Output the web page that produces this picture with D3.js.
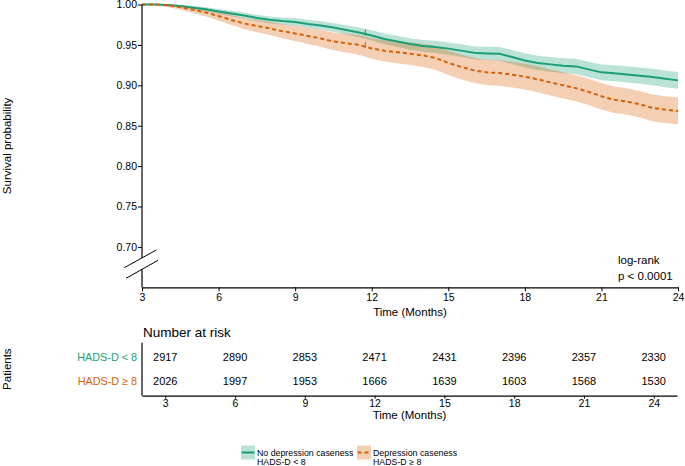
<!DOCTYPE html>
<html>
<head>
<meta charset="utf-8">
<script src="https://cdn.jsdelivr.net/npm/d3@7"></script>
<style>
  body { margin: 0; background: #fff; }
  svg { font-family: "Liberation Sans", Arial, Helvetica, sans-serif; }
</style>
</head>
<body>
<svg id="chart" width="685" height="466"></svg>
<script>
// time grid (months) for the survival curves
const months = [3, 3.5, 4, 4.5, 5, 5.5, 6, 6.5, 7, 7.5, 8, 8.5, 9, 9.5, 10, 10.5, 11, 11.5, 12,
  12.5, 13, 13.5, 14, 14.5, 15, 15.5, 16, 16.5, 17, 17.5, 18, 18.5, 19, 19.5, 20, 20.5, 21,
  21.5, 22, 22.5, 23, 23.5, 24];

// No depression caseness (HADS-D < 8)
const survNoDep = [1.000, 1.000, 0.9994, 0.998, 0.996, 0.994, 0.9914, 0.9889, 0.9864, 0.9833, 0.981,
  0.9795, 0.9784, 0.976, 0.974, 0.9716, 0.9685, 0.9654, 0.9617, 0.9574, 0.9543, 0.9512, 0.9487,
  0.9475, 0.9454, 0.9429, 0.9403, 0.9395, 0.9389, 0.9351, 0.9308, 0.9277, 0.9259, 0.9243, 0.9234,
  0.9197, 0.916, 0.9148, 0.9135, 0.9119, 0.9104, 0.908, 0.9061];
const lowNoDep = [1.000, 0.9995, 0.9984, 0.9965, 0.994, 0.9915, 0.9884, 0.9856, 0.9828, 0.9794, 0.9768,
  0.975, 0.9736, 0.971, 0.9688, 0.9662, 0.9628, 0.9594, 0.9554, 0.9508, 0.9474, 0.9441, 0.9414,
  0.94, 0.9377, 0.935, 0.9322, 0.9312, 0.9304, 0.9264, 0.9219, 0.9187, 0.9168, 0.915, 0.914,
  0.9101, 0.9063, 0.9049, 0.9035, 0.9018, 0.9002, 0.8976, 0.8956];
const highNoDep = [1.000, 1.000, 1.000, 0.9995, 0.998, 0.9965, 0.9944, 0.9922, 0.99, 0.9872, 0.9852,
  0.984, 0.9832, 0.981, 0.9792, 0.977, 0.9742, 0.9714, 0.968, 0.964, 0.9612, 0.9583, 0.956,
  0.955, 0.9531, 0.9508, 0.9484, 0.9478, 0.9474, 0.9438, 0.9397, 0.9367, 0.935, 0.9336, 0.9328,
  0.9293, 0.9257, 0.9247, 0.9235, 0.922, 0.9206, 0.9184, 0.9166];

// Depression caseness (HADS-D >= 8)
const survDep = [1.000, 1.000, 0.999, 0.9965, 0.9935, 0.9901, 0.9858, 0.9809, 0.9765, 0.9734, 0.9704,
  0.9669, 0.9642, 0.9611, 0.958, 0.9543, 0.9521, 0.95, 0.9456, 0.9428, 0.941, 0.9391, 0.937,
  0.9339, 0.9277, 0.9228, 0.9185, 0.916, 0.9151, 0.9132, 0.9107, 0.9074, 0.9036, 0.9, 0.8965,
  0.8919, 0.8864, 0.882, 0.8798, 0.8765, 0.8721, 0.8699, 0.8682];
const lowDep = [1.000, 0.999, 0.997, 0.9935, 0.9895, 0.9853, 0.9803, 0.9747, 0.9696, 0.9658, 0.9622,
  0.9581, 0.9548, 0.9512, 0.9476, 0.9433, 0.9405, 0.9379, 0.9329, 0.9296, 0.9273, 0.925, 0.9225,
  0.9191, 0.9127, 0.9075, 0.903, 0.9003, 0.8993, 0.8973, 0.8947, 0.8913, 0.8875, 0.8838, 0.8803,
  0.8756, 0.8701, 0.8656, 0.8634, 0.86, 0.8556, 0.8533, 0.8516];
const highDep = [1.000, 1.000, 1.000, 0.9995, 0.9975, 0.9949, 0.9913, 0.9871, 0.9834, 0.981, 0.9786,
  0.9757, 0.9736, 0.971, 0.9684, 0.9653, 0.9637, 0.9621, 0.9583, 0.956, 0.9547, 0.9532, 0.9515,
  0.9487, 0.9427, 0.9381, 0.934, 0.9317, 0.9309, 0.9291, 0.9267, 0.9235, 0.9197, 0.9162, 0.9127,
  0.9082, 0.9027, 0.8984, 0.8962, 0.893, 0.8886, 0.8865, 0.8848];

const censorTimes = [11.75];

const xTicks = [3, 6, 9, 12, 15, 18, 21, 24];
const yTicks = [0.70, 0.75, 0.80, 0.85, 0.90, 0.95, 1.00];

const riskGroups = ['HADS-D < 8', 'HADS-D \u2265 8'];
const riskNoDep = [2917, 2890, 2853, 2471, 2431, 2396, 2357, 2330];
const riskDep = [2026, 1997, 1953, 1666, 1639, 1603, 1568, 1530];

const green = '#1b9e77';
const orange = '#d95f02';

const svg = d3.select('#chart');

// ---------- survival plot ----------
const plot = { left: 142, right: 678, top: 4.5, bottom: 287.3 };

const x = d3.scaleLinear().domain([3, 24]).range([plot.left, plot.right]);
const y = d3.scaleLinear().domain([0.65, 1]).range([plot.bottom, plot.top]);

const series = [
  { name: 'nodep', surv: survNoDep, low: lowNoDep, high: highNoDep, color: green, dash: null },
  { name: 'dep', surv: survDep, low: lowDep, high: highDep, color: orange, dash: '4,3' },
];

const area = d3.area()
  .x((d) => x(d.t))
  .y0((d) => y(d.low))
  .y1((d) => y(d.high));

const line = d3.line()
  .x((d) => x(d.t))
  .y((d) => y(d.s));

series.forEach((s) => {
  s.rows = months.map((t, i) => ({ t, s: s.surv[i], low: s.low[i], high: s.high[i] }));
});

svg.append('g').attr('class', 'ribbons')
  .selectAll('path')
  .data(series)
  .join('path')
  .attr('d', (d) => area(d.rows))
  .attr('fill', (d) => d.color)
  .attr('fill-opacity', 0.3);

svg.append('g').attr('class', 'curves')
  .selectAll('path')
  .data(series)
  .join('path')
  .attr('d', (d) => line(d.rows))
  .attr('fill', 'none')
  .attr('stroke', (d) => d.color)
  .attr('stroke-width', 2)
  .attr('stroke-dasharray', (d) => d.dash);

// censor marks
function survAt(s, t) {
  const i = d3.bisectRight(months, t) - 1;
  return s.surv[Math.max(0, i)];
}
series.forEach((s) => {
  svg.append('g')
    .selectAll('line')
    .data(censorTimes)
    .join('line')
    .attr('x1', (t) => x(t)).attr('x2', (t) => x(t))
    .attr('y1', (t) => y(survAt(s, t)) - 3)
    .attr('y2', (t) => y(survAt(s, t)) + 3)
    .attr('stroke', s.color)
    .attr('stroke-width', 1);
});

// axes
const xAxis = svg.append('g')
  .attr('transform', `translate(0, ${plot.bottom})`)
  .call(d3.axisBottom(x).tickValues(xTicks).tickSize(4).tickSizeOuter(0).tickPadding(2));

const yAxis = svg.append('g')
  .attr('transform', `translate(${plot.left}, 0)`)
  .call(d3.axisLeft(y).tickValues(yTicks).tickFormat(d3.format('.2f')).tickSize(4).tickPadding(1));
yAxis.select('.domain').remove();

[xAxis, yAxis].forEach((g) => {
  g.selectAll('text').attr('font-size', '10.5px').attr('fill', '#000').attr('font-family', null);
  g.selectAll('line, path').attr('stroke', '#000');
});
xAxis.select('.domain').attr('stroke-width', 1.2);

// y axis line with a break
const breakTop = 258, breakBottom = 269;
svg.append('line')
  .attr('x1', plot.left).attr('x2', plot.left)
  .attr('y1', plot.top).attr('y2', breakTop)
  .attr('stroke', '#000').attr('stroke-width', 1.2);
svg.append('line')
  .attr('x1', plot.left).attr('x2', plot.left)
  .attr('y1', breakBottom).attr('y2', plot.bottom)
  .attr('stroke', '#000').attr('stroke-width', 1.2);
[[124.3, 267.7, 156.3, 250], [126, 278.3, 158, 260.3]].forEach(([x1, y1, x2, y2]) => {
  svg.append('line')
    .attr('x1', x1).attr('y1', y1).attr('x2', x2).attr('y2', y2)
    .attr('stroke', '#000').attr('stroke-width', 1);
});

svg.append('text')
  .attr('x', (plot.left + plot.right) / 2)
  .attr('y', 316)
  .attr('text-anchor', 'middle')
  .attr('font-size', '11.5px')
  .text('Time (Months)');

svg.append('text')
  .attr('transform', `translate(10.5, ${(plot.top + plot.bottom) / 2}) rotate(-90)`)
  .attr('text-anchor', 'middle')
  .attr('font-size', '11.5px')
  .text('Survival probability');

svg.append('text')
  .attr('x', 618).attr('y', 263.5)
  .attr('font-size', '11.5px')
  .text('log-rank');
svg.append('text')
  .attr('x', 618).attr('y', 279.5)
  .attr('font-size', '11.5px')
  .text('p < 0.0001');

// ---------- number at risk table ----------
const table = { left: 142, right: 677, top: 342.7, bottom: 395.7 };
const tx = d3.scaleLinear().domain([2, 25]).range([table.left, table.right]);
const ty = d3.scalePoint().domain(riskGroups).range([357.3, 381]);

svg.append('text')
  .attr('x', 143).attr('y', 336.5)
  .attr('font-size', '13.5px')
  .text('Number at risk');

const riskRows = [
  { group: riskGroups[0], values: riskNoDep, color: green },
  { group: riskGroups[1], values: riskDep, color: orange },
];

riskRows.forEach((r) => {
  svg.append('g')
    .selectAll('text')
    .data(r.values)
    .join('text')
    .attr('x', (d, i) => tx(xTicks[i]))
    .attr('y', ty(r.group))
    .attr('dy', '0.36em')
    .attr('text-anchor', 'middle')
    .attr('font-size', '11px')
    .text((d) => d);

  svg.append('text')
    .attr('x', 137)
    .attr('y', ty(r.group))
    .attr('dy', '0.36em')
    .attr('text-anchor', 'end')
    .attr('font-size', '10.8px')
    .attr('fill', r.color)
    .text(r.group);
});

const txAxis = svg.append('g')
  .attr('transform', `translate(0, ${table.bottom})`)
  .call(d3.axisBottom(tx).tickValues(xTicks).tickSize(3).tickSizeOuter(0).tickPadding(1));
txAxis.selectAll('text').attr('font-size', '10.5px').attr('fill', '#000');
txAxis.selectAll('line, path').attr('stroke', '#000');
txAxis.select('.domain').attr('stroke-width', 1.2);

svg.append('line')
  .attr('x1', table.left).attr('x2', table.left)
  .attr('y1', table.top).attr('y2', table.bottom)
  .attr('stroke', '#000').attr('stroke-width', 1.2);

svg.append('text')
  .attr('x', (tx(3) + tx(24)) / 2)
  .attr('y', 419)
  .attr('text-anchor', 'middle')
  .attr('font-size', '11.5px')
  .text('Time (Months)');

svg.append('text')
  .attr('transform', `translate(11, ${(357.3 + 381) / 2}) rotate(-90)`)
  .attr('text-anchor', 'middle')
  .attr('font-size', '11.5px')
  .text('Patients');

// ---------- legend ----------
const legendItems = [
  { x: 241, label: 'No depression caseness', sub: 'HADS-D < 8', color: green, dash: null },
  { x: 357, label: 'Depression caseness', sub: 'HADS-D \u2265 8', color: orange, dash: '4,3' },
];

const legend = svg.append('g').attr('class', 'legend');
legendItems.forEach((d) => {
  const g = legend.append('g').attr('transform', `translate(${d.x}, 445.5)`);
  g.append('rect')
    .attr('width', 14).attr('height', 14)
    .attr('fill', d.color).attr('fill-opacity', 0.3);
  g.append('line')
    .attr('x1', 0.5).attr('x2', 13.5).attr('y1', 7).attr('y2', 7)
    .attr('stroke', d.color).attr('stroke-width', 2)
    .attr('stroke-dasharray', d.dash);
  g.append('text')
    .attr('x', 16).attr('y', 10.5)
    .attr('font-size', '8.8px')
    .text(d.label);
  g.append('text')
    .attr('x', 16).attr('y', 19.6)
    .attr('font-size', '8.8px')
    .text(d.sub);
});
</script>
</body>
</html>
